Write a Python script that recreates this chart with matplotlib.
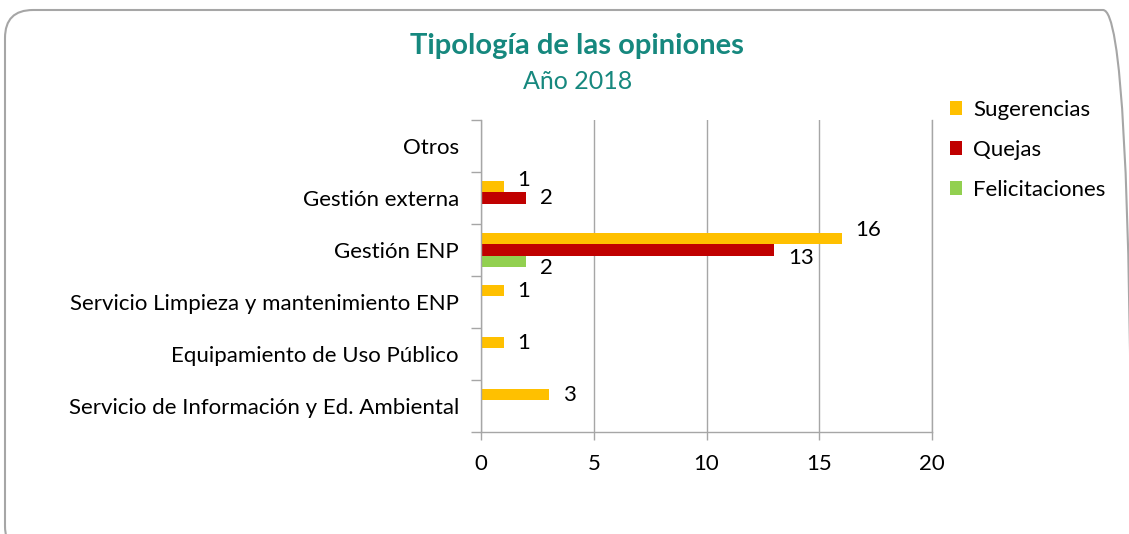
import matplotlib
matplotlib.use('Agg')
import matplotlib.pyplot as plt
from matplotlib.patches import FancyBboxPatch, Patch
from matplotlib.transforms import IdentityTransform
import numpy as np

# categories, bottom to top
categorias = ['Servicio de Información y Ed. Ambiental',
              'Equipamiento de Uso Público',
              'Servicio Limpieza y mantenimiento ENP',
              'Gestión ENP',
              'Gestión externa',
              'Otros']
sugerencias = [3, 1, 1, 16, 1, 0]
quejas = [0, 0, 0, 13, 2, 0]
felicitaciones = [0, 0, 0, 2, 0, 0]
series_names = ['Sugerencias', 'Quejas', 'Felicitaciones']
xticks = [0, 5, 10, 15, 20]

colors = ['#FFC000', '#C00000', '#92D050']
teal = '#16887E'
grey = '#A6A6A6'
plt.rcParams['font.family'] = ['Lato', 'DejaVu Sans']
FS = 16

fig = plt.figure(figsize=(11.29, 5.34), dpi=100)
W, H = 1129, 534

# rounded frame round the chart (pixel coords, y from bottom)
frame = FancyBboxPatch((5, -20), 1126, H - 10 + 20,
                       boxstyle='round,pad=0,rounding_size=28',
                       transform=IdentityTransform(), fill=False,
                       edgecolor=grey, linewidth=1.5)
fig.patches.append(frame)

ax = fig.add_axes([481 / W, 1 - 432 / H, 451 / W, 312 / H])

y = np.arange(len(categorias))
bh = 0.22
data = [sugerencias, quejas, felicitaciones]
offsets = [bh, 0, -bh]
# vertical nudges (points) of the data labels, as the chart shows them
nudge = {(0, 4): 4.5, (0, 3): 6, (1, 3): -6, (2, 3): -5}
for i, (vals, off) in enumerate(zip(data, offsets)):
    ax.barh(y + off, vals, height=bh, color=colors[i], label=series_names[i])
    for j, v in enumerate(vals):
        if v > 0:
            ax.annotate(str(v), (v, y[j] + off), xytext=(10, nudge.get((i, j), 0)),
                        textcoords='offset points', ha='left', va='center',
                        fontsize=FS, color='black')

ax.set_xlim(0, 20)
ax.set_ylim(-0.5, len(categorias) - 0.5)
ax.set_xticks(xticks)
ax.set_xticklabels([str(t) for t in xticks], fontsize=FS)
ax.set_yticks(y)
ax.set_yticklabels(categorias, fontsize=FS)
ax.set_yticks(np.arange(-0.5, len(categorias)), minor=True)
ax.tick_params(axis='y', which='major', length=0, pad=16)
ax.tick_params(axis='y', which='minor', length=7, color=grey, width=1)
ax.tick_params(axis='x', length=6, color=grey, width=1, pad=10)
ax.grid(axis='x', color=grey, linewidth=1)
ax.set_axisbelow(True)
ax.spines['top'].set_visible(False)
for s in ['left', 'bottom', 'right']:
    ax.spines[s].set_color(grey)
    ax.spines[s].set_linewidth(1)

fig.text(577 / W, 1 - 46 / H, 'Tipología de las opiniones', ha='center', va='center',
         fontsize=21, fontweight='bold', color=teal)
fig.text(578 / W, 1 - 82 / H, 'Año 2018', ha='center', va='center',
         fontsize=18, color=teal)

handles = [Patch(facecolor=c, label=n) for c, n in zip(colors, series_names)]
fig.legend(handles=handles, loc='upper left', bbox_to_anchor=(930 / W, 1 - 80 / H),
           frameon=False, fontsize=FS, handlelength=0.55, handleheight=0.55,
           handletextpad=0.5, labelspacing=0.9)

fig.savefig('out.png', dpi=100)
